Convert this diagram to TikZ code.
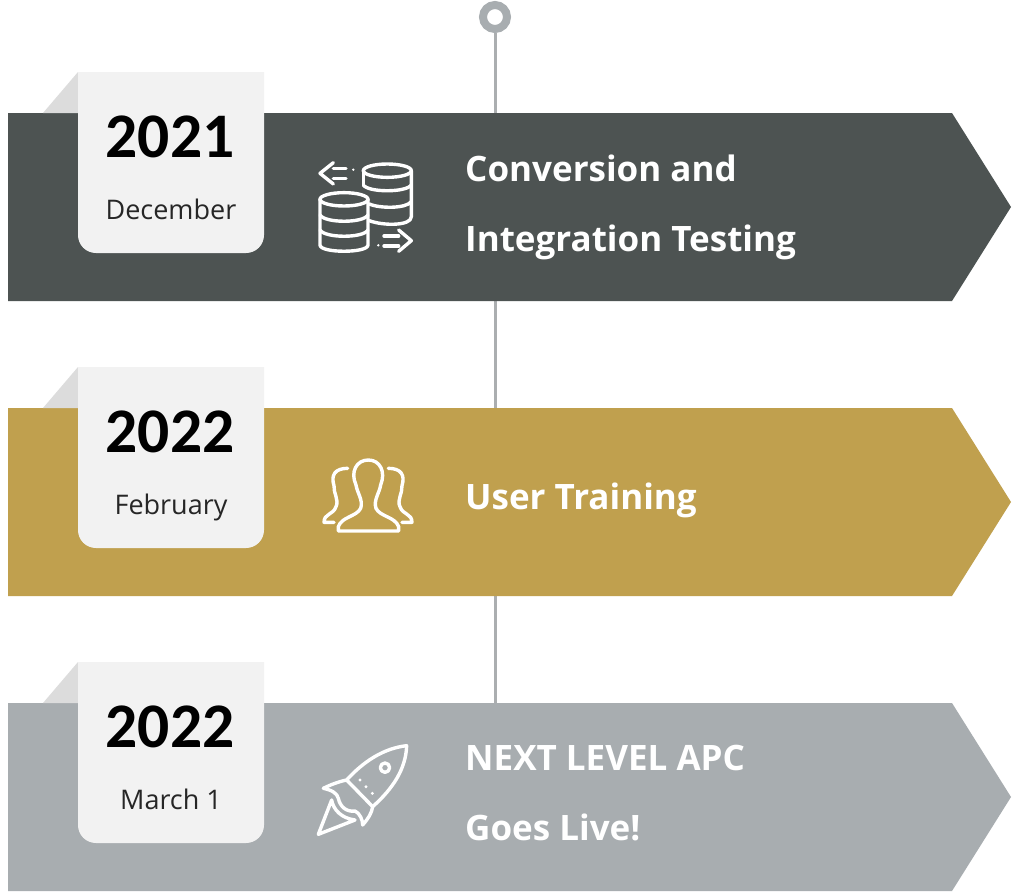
\documentclass[tikz,border=0pt]{standalone}
\usepackage{fontspec}
\setmainfont{Open Sans}
\newfontfamily\yearfont{Carlito}
\definecolor{cdark}{HTML}{4D5352}
\definecolor{cgold}{HTML}{C0A04E}
\definecolor{cgray}{HTML}{A8ADB0}
\definecolor{cline}{HTML}{ABAEB0}
\definecolor{ctab}{HTML}{F2F2F2}
\definecolor{cfold}{HTML}{DCDCDC}
\tikzset{
  x=1pt,y=-1pt,
  yearlabel/.style={anchor=base,inner sep=0,font=\yearfont\bfseries\fontsize{63.5}{64}\selectfont,text=black},
  monthlabel/.style={anchor=base,inner sep=0,font=\fontsize{27}{27}\selectfont,text=black!85},
  titlelabel/.style={anchor=base west,inner sep=0,font=\bfseries\fontsize{35}{35}\selectfont,text=white},
  iconline/.style={draw=white,line width=3.4pt,line cap=round,line join=round},
  banner/.pic={
    \fill[fill=\bannercolor] (8,113) -- (952,113) -- (1011,207) -- (952,301) -- (8,301) -- cycle;
    \fill[cfold] (78,72) -- (43,113) -- (78,113) -- cycle;
    \fill[ctab] (78,72) -- (264,72) -- (264,235) .. controls (264,245) and (256,253) .. (246,253) -- (96,253) .. controls (86,253) and (78,245) .. (78,235) -- cycle;
  }
}
\begin{document}
\begin{tikzpicture}
\useasboundingbox (0,0) rectangle (1012,894);
\fill[white] (0,0) rectangle (1012,894);
\node[circle,draw=cgray,line width=8pt,minimum size=24pt,inner sep=0] (ring) at (495,17) {};
\coordinate (lineend) at (495,703);
\draw[cline,line width=3pt] (ring) -- (lineend);
\def\bannercolor{cdark}
\pic at (0,0) {banner};
\def\bannercolor{cgold}
\pic at (0,295) {banner};
\def\bannercolor{cgray}
\pic at (0,590) {banner};

\node[yearlabel] (y1) at (170,157) {2021};
\node[monthlabel] (m1) at (171,219) {December};
\node[yearlabel] (y2) at (170,452) {2022};
\node[monthlabel] (m2) at (171,514) {February};
\node[yearlabel] (y3) at (170,747) {2022};
\node[monthlabel] (m3) at (171,809) {March 1};

\node[titlelabel] (t1a) at (465,181) {Conversion and};
\node[titlelabel] (t1b) at (465,251) {Integration Testing};
\node[titlelabel] (t2) at (465,509) {User Training};
\node[titlelabel] (t3a) at (465,770) {NEXT LEVEL APC};
\node[titlelabel] (t3b) at (465,840) {Goes Live!};

% database icon
\begin{scope}[shift={(300,150)},x=0.3333pt,y=-0.3333pt,iconline]
  \draw (262,62) ellipse[x radius=72,y radius=-20];
  \draw (190,62) -- (190,105);
  \draw (334,62) -- (334,200) .. controls (334,228) and (250,228) .. (208,212);
  \draw (190,105) .. controls (205,128) and (318,128) .. (334,105);
  \draw (208,162) .. controls (240,176) and (318,176) .. (334,155);
  \draw (132,148) ellipse[x radius=72,y radius=-20];
  \draw (60,148) -- (60,285) .. controls (60,310) and (204,310) .. (204,285) -- (204,148);
  \draw (60,195) .. controls (75,220) and (190,220) .. (204,195);
  \draw (60,240) .. controls (75,265) and (190,265) .. (204,240);
  \draw (100,38) -- (60,70) -- (100,102);
  \draw (100,55) -- (138,55) (100,85) -- (138,85);
  \fill[white,draw=none] (160,59) circle[radius=4];
  \draw (296,240) -- (334,272) -- (296,304);
  \draw (252,258) -- (296,258) (252,288) -- (296,288);
  \fill[white,draw=none] (235,286) circle[radius=4];
\end{scope}

% people icon
\begin{scope}[shift={(300,445)},x=0.3333pt,y=-0.3333pt,iconline]
  \draw (115,258) -- (115,245) .. controls (125,215) and (170,215) .. (182,190)
    .. controls (190,165) and (172,145) .. (168,120)
    .. controls (150,80) and (170,45) .. (205,45)
    .. controls (240,45) and (258,80) .. (242,120)
    .. controls (238,145) and (220,165) .. (228,190)
    .. controls (240,215) and (285,215) .. (296,245) -- (296,258) -- cycle;
  \draw (143,70) .. controls (105,70) and (92,90) .. (102,122)
    .. controls (100,145) and (118,165) .. (108,185)
    .. controls (100,210) and (72,205) .. (72,232) -- (102,232);
  \draw (265,70) .. controls (303,70) and (316,90) .. (306,122)
    .. controls (308,145) and (290,165) .. (300,185)
    .. controls (308,210) and (336,205) .. (336,232) -- (306,232);
\end{scope}

% rocket icon
\begin{scope}[shift={(300,735)},x=0.3333pt,y=-0.3333pt,iconline]
  \draw (320,32) .. controls (250,40) and (190,80) .. (140,135)
    .. controls (115,140) and (90,150) .. (70,160)
    .. controls (95,165) and (112,175) .. (115,190)
    .. controls (120,215) and (140,232) .. (165,228)
    .. controls (180,235) and (188,255) .. (188,270)
    .. controls (205,250) and (215,235) .. (218,215)
    .. controls (280,160) and (318,100) .. (320,32) -- cycle;
  \draw (140,135) -- (218,215);
  \draw (255,98) circle[radius=14];
  \fill[white,draw=none] (180,135) circle[radius=5] (198,155) circle[radius=5] (217,175) circle[radius=5];
  \draw (95,195) -- (55,298) -- (165,255) .. controls (125,250) and (100,225) .. (95,195) -- cycle;
\end{scope}
\end{tikzpicture}
\end{document}
